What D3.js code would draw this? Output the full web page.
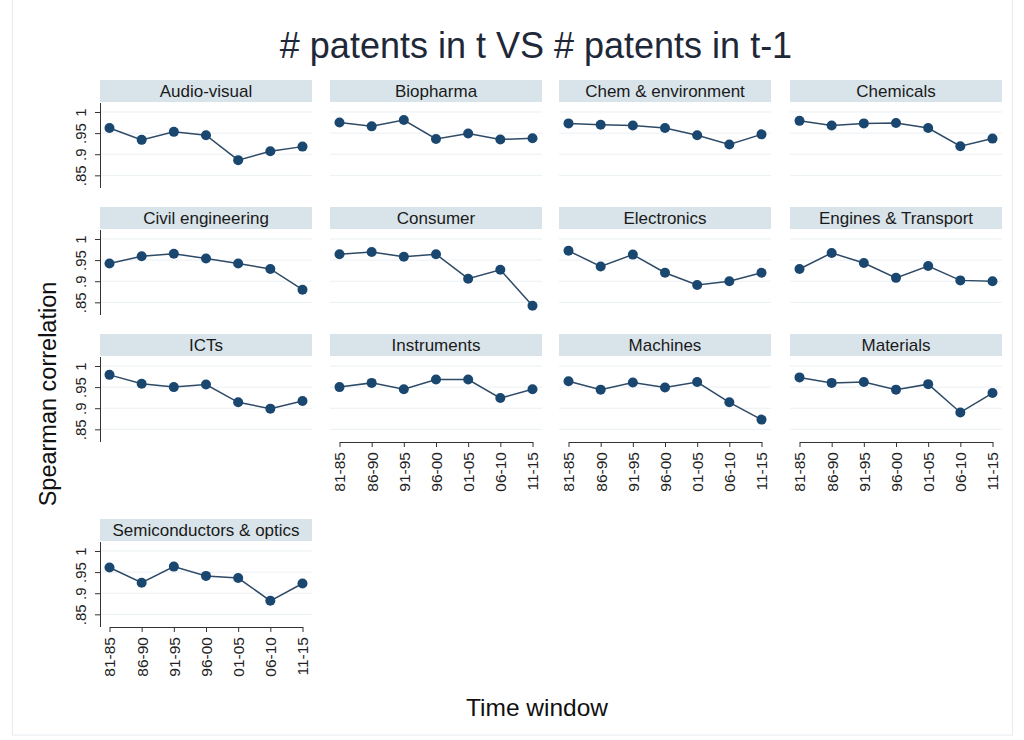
<!DOCTYPE html>
<html>
<head>
<meta charset="utf-8">
<script src="https://cdn.jsdelivr.net/npm/d3@7"></script>
<style>
  body { margin: 0; background: #fff; }
  text { font-family: "Liberation Sans", Arial, sans-serif; }
</style>
</head>
<body>
<div id="chart"></div>
<script>

// time windows on the x axis
var windows = ["81-85", "86-90", "91-95", "96-00", "01-05", "06-10", "11-15"];

// panel names, in reading order
var panels = ["Audio-visual", "Biopharma", "Chem & environment", "Chemicals",
              "Civil engineering", "Consumer", "Electronics", "Engines & Transport",
              "ICTs", "Instruments", "Machines", "Materials",
              "Semiconductors & optics"];

// spearman correlation for each panel
var audioVisual    = [0.962, 0.934, 0.953, 0.945, 0.886, 0.907, 0.918];
var biopharma      = [0.975, 0.966, 0.981, 0.936, 0.949, 0.935, 0.938];
var chemEnv        = [0.973, 0.970, 0.968, 0.962, 0.945, 0.923, 0.947];
var chemicals      = [0.979, 0.968, 0.973, 0.974, 0.962, 0.919, 0.937];
var civilEng       = [0.942, 0.959, 0.965, 0.954, 0.942, 0.929, 0.880];
var consumer       = [0.964, 0.969, 0.958, 0.964, 0.906, 0.927, 0.842];
var electronics    = [0.972, 0.935, 0.963, 0.920, 0.891, 0.900, 0.920];
var engines        = [0.929, 0.967, 0.943, 0.908, 0.936, 0.902, 0.900];
var icts           = [0.979, 0.958, 0.950, 0.956, 0.914, 0.899, 0.917];
var instruments    = [0.950, 0.960, 0.945, 0.968, 0.968, 0.924, 0.945];
var machines       = [0.964, 0.944, 0.961, 0.949, 0.962, 0.914, 0.873];
var materials      = [0.973, 0.960, 0.962, 0.944, 0.957, 0.890, 0.936];
var semiconductors = [0.961, 0.925, 0.963, 0.941, 0.936, 0.882, 0.923];

var series = [audioVisual, biopharma, chemEnv, chemicals, civilEng, consumer,
              electronics, engines, icts, instruments, machines, materials,
              semiconductors];

var yTicks = [0.85, 0.9, 0.95, 1];
var yTickLabels = [".85", ".9", ".95", "1"];

var width = 1024, height = 740;
var colX = [100, 330, 559, 790];
var rowTop = [103, 230, 357, 542];
var panelW = 212, panelH = 85, headH = 22;

var navy = "#1a476f";

var svg = d3.select("#chart")
  .append("svg")
    .attr("width", width)
    .attr("height", height);

svg.append("rect")
  .attr("x", 12.5).attr("y", -1)
  .attr("width", 1000).attr("height", 736)
  .attr("fill", "#fff")
  .attr("stroke", "#e6ebef");

var x = d3.scalePoint()
  .domain(windows)
  .range([9.5, panelW - 9.5]);

var y = d3.scaleLinear()
  .domain([0.82, 1.0213])
  .range([panelH, 0]);

panels.forEach(function(name, i) {
  var row = Math.floor(i / 4), col = i % 4;
  var data = series[i].map(function(v, j) { return {w: windows[j], v: v}; });

  var g = svg.append("g")
    .attr("transform", "translate(" + colX[col] + "," + rowTop[row] + ")");

  // header band
  g.append("rect")
    .attr("x", 0).attr("y", -headH - 1)
    .attr("width", panelW).attr("height", headH)
    .attr("fill", "#d9e4ea");
  g.append("text")
    .attr("x", panelW / 2)
    .attr("y", -headH - 1 + 17)
    .attr("text-anchor", "middle")
    .attr("font-size", 17)
    .attr("fill", "#1a1a1a")
    .text(name);

  // grid
  g.selectAll(".grid")
    .data(yTicks)
    .enter().append("line")
      .attr("x1", 0).attr("x2", panelW)
      .attr("y1", function(d) { return y(d); })
      .attr("y2", function(d) { return y(d); })
      .attr("stroke", "#eaf0f3")
      .attr("stroke-width", 1);

  // y axis on the first column
  if (col == 0) {
    var ya = g.append("g")
      .call(d3.axisLeft(y)
        .tickValues(yTicks)
        .tickSize(5)
        .tickFormat(function(d, k) { return yTickLabels[k]; }));
    ya.select(".domain").attr("stroke", "#333").attr("d", "M0.5," + 0 + "V" + panelH);
    ya.selectAll(".tick line").attr("stroke", "#333");
    ya.selectAll("text")
      .attr("x", null).attr("dy", null)
      .attr("transform", "translate(-14,0) rotate(-90)")
      .attr("text-anchor", "middle")
      .attr("font-size", 15)
      .attr("font-family", "Liberation Sans, Arial, sans-serif")
      .attr("fill", "#222");
  }

  // x axis on the bottom panel of each column
  if (row == 3 || (row == 2 && col > 0)) {
    var xa = g.append("g")
      .attr("transform", "translate(0," + panelH + ")")
      .call(d3.axisBottom(x).tickSize(5).tickSizeOuter(0));
    xa.select(".domain").attr("stroke", "#333");
    xa.selectAll(".tick line").attr("stroke", "#333");
    xa.selectAll("text")
      .attr("y", null).attr("dy", "0.35em")
      .attr("transform", "translate(0,10) rotate(-90)")
      .attr("text-anchor", "end")
      .attr("font-size", 15.5)
      .attr("font-family", "Liberation Sans, Arial, sans-serif")
      .attr("fill", "#222");
  }

  g.append("path")
    .datum(data)
    .attr("fill", "none")
    .attr("stroke", "#2e4a66")
    .attr("stroke-width", 1.5)
    .attr("d", d3.line()
      .x(function(d) { return x(d.w); })
      .y(function(d) { return y(d.v); }));

  g.selectAll(".pt")
    .data(data)
    .enter().append("circle")
      .attr("cx", function(d) { return x(d.w); })
      .attr("cy", function(d) { return y(d.v); })
      .attr("r", 5)
      .attr("fill", navy);
});

svg.append("text")
  .attr("x", 536)
  .attr("y", 58)
  .attr("text-anchor", "middle")
  .attr("font-size", 36)
  .attr("fill", "#1e2838")
  .text("# patents in t VS # patents in t-1");

svg.append("text")
  .attr("transform", "translate(56,394) rotate(-90)")
  .attr("text-anchor", "middle")
  .attr("font-size", 23.5)
  .attr("fill", "#111")
  .text("Spearman correlation");

svg.append("text")
  .attr("x", 537)
  .attr("y", 716)
  .attr("text-anchor", "middle")
  .attr("font-size", 24.5)
  .attr("fill", "#111")
  .text("Time window");

</script>
</body>
</html>
